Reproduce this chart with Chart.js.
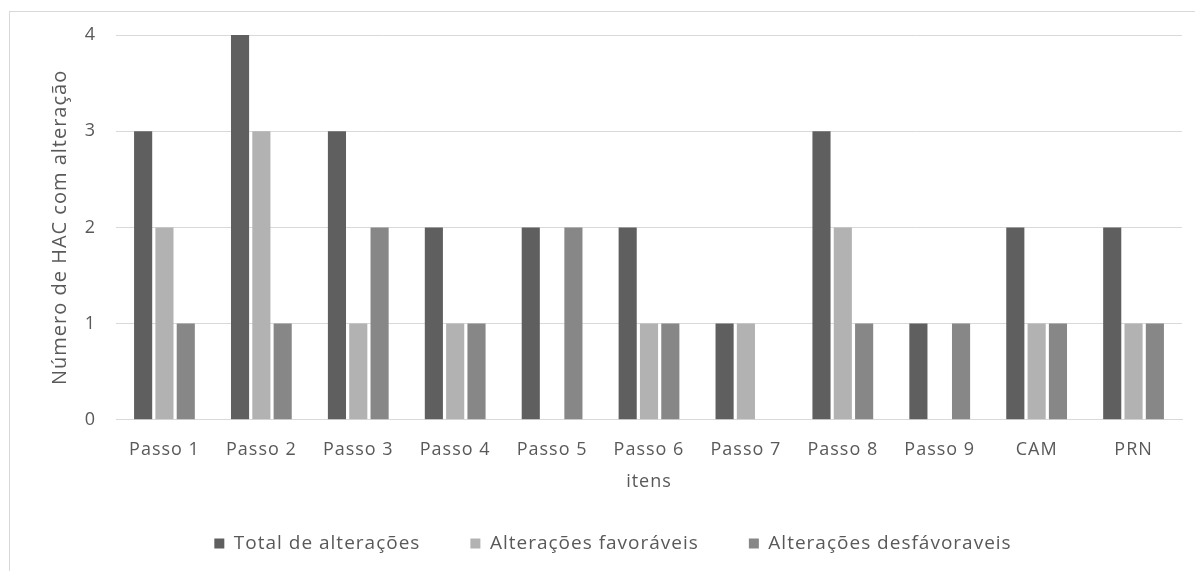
<!DOCTYPE html>
<html>
<head>
<meta charset="utf-8">
<script src="https://cdn.jsdelivr.net/npm/chart.js@4/dist/chart.umd.min.js"></script>
<style>
  html, body { margin: 0; padding: 0; background: #fff; }
  #wrap { position: relative; width: 1195px; height: 571px; }
  #frame { position: absolute; left: 9px; top: 11px; right: 0; bottom: 0;
           border-top: 1px solid #d9d9d9; border-left: 1px solid #d9d9d9; }
  canvas { position: absolute; left: 0; top: 0; }
</style>
</head>
<body>
<div id="wrap">
  <div id="frame"></div>
  <canvas id="barChart" width="1195" height="571"></canvas>
</div>
<script>
// --- Data ---
const categories = ['Passo 1', 'Passo 2', 'Passo 3', 'Passo 4', 'Passo 5', 'Passo 6',
                    'Passo 7', 'Passo 8', 'Passo 9', 'CAM', 'PRN'];
const totalAlteracoes = [3, 4, 3, 2, 2, 2, 1, 3, 1, 2, 2];
const favoraveis      = [2, 3, 1, 1, 0, 1, 1, 2, 0, 1, 1];
const desfavoraveis   = [1, 1, 2, 1, 2, 1, 0, 1, 1, 1, 1];
const yTicks = [0, 1, 2, 3, 4];

const textColor = '#595959';
const fontFamily = "'Open Sans', 'DejaVu Sans', sans-serif";
const baseFont = { family: fontFamily, size: 18 };

// the original text is a bit spaced out, widen it a little
const spacingPlugin = {
    id: 'spacing',
    beforeUpdate(chart) { chart.ctx.letterSpacing = '1px'; },
    beforeDraw(chart) { chart.ctx.letterSpacing = '1px'; }
};

const ctx = document.getElementById('barChart').getContext('2d');

new Chart(ctx, {
    type: 'bar',
    data: {
        labels: categories,
        datasets: [
            { label: 'Total de alterações', data: totalAlteracoes, backgroundColor: '#5f5f5f' },
            { label: 'Alterações favoráveis', data: favoraveis, backgroundColor: '#b2b2b2' },
            { label: 'Alterações desfávoraveis', data: desfavoraveis, backgroundColor: '#878787' }
        ]
    },
    plugins: [spacingPlugin],
    options: {
        responsive: false,
        animation: false,
        barPercentage: 0.85,
        categoryPercentage: 0.66,
        layout: { padding: { left: 44, right: 13, top: 35, bottom: 8 } },
        plugins: {
            tooltip: { enabled: false },
            legend: {
                position: 'bottom',
                labels: {
                    color: textColor,
                    font: { family: fontFamily, size: 19 },
                    usePointStyle: true,
                    pointStyle: 'rect',
                    boxWidth: 10,
                    boxHeight: 10,
                    padding: 50
                }
            }
        },
        scales: {
            x: {
                grid: { display: false, drawTicks: false },
                border: { display: true, color: '#d9d9d9', width: 1 },
                ticks: { color: textColor, font: baseFont, padding: 19, maxRotation: 0 },
                title: { display: true, text: 'itens', color: textColor, font: baseFont, padding: { top: -8, bottom: -9 } }
            },
            y: {
                min: 0,
                max: 4,
                afterBuildTicks: (scale) => { scale.ticks = yTicks.map(v => ({ value: v })); },
                afterFit: (scale) => { scale.width = 72; },
                grid: { color: '#d9d9d9', drawTicks: false },
                border: { display: false },
                ticks: { color: textColor, font: baseFont, padding: 20 },
                title: { display: true, text: 'Número de HAC com alteração', color: textColor, font: { family: fontFamily, size: 20 } }
            }
        }
    }
});
</script>
</body>
</html>
